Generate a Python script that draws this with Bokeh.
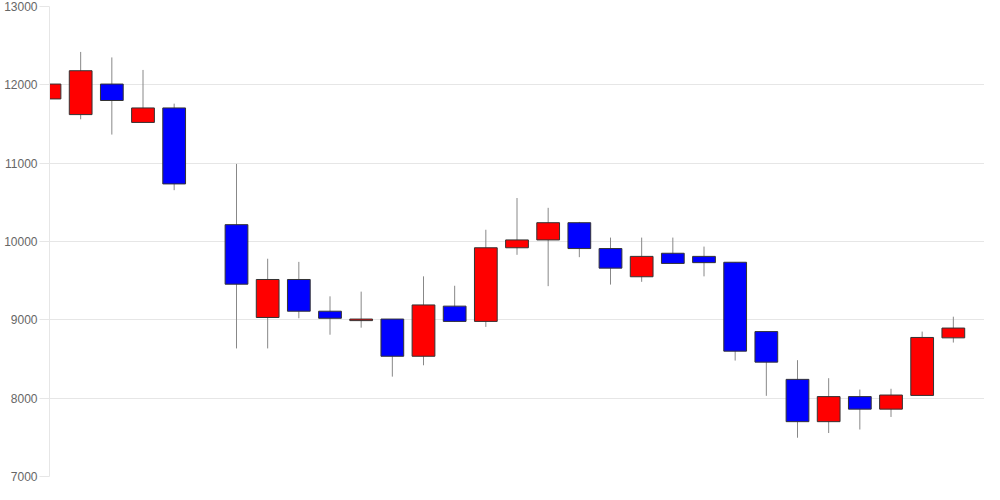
from bokeh.plotting import figure
from bokeh.models import ColumnDataSource, Range1d, FixedTicker
from bokeh.embed import file_html
from bokeh.resources import INLINE

# trading-day slots (slot 5 is an empty day)
day = [0, 1, 2, 3, 4, 6, 7, 8, 9, 10, 11, 12, 13, 14, 15, 16, 17, 18, 19, 20,
       21, 22, 23, 24, 25, 26, 27, 28, 29]
open_ = [11820, 11620, 12010, 11520, 11705, 10215, 9030, 9515, 9110, 8990,
         9010, 8535, 9175, 8980, 9920, 10020, 10240, 9910, 9550, 9850,
         9810, 9735, 8850, 8240, 7700, 8020, 7860, 8035, 8770]
high = [12190, 12420, 12350, 12190, 11760, 10990, 9780, 9740, 9300, 9360,
        9010, 9555, 9435, 10150, 10555, 10430, 10250, 10050, 10050, 10050,
        9935, 9735, 8850, 8485, 8255, 8110, 8120, 8850, 9040]
low = [11520, 11560, 11365, 11520, 10655, 8635, 8635, 9020, 8810, 8900,
       8275, 8420, 8975, 8910, 9830, 9430, 9800, 9450, 9485, 9720,
       9555, 8480, 8030, 7495, 7555, 7600, 7760, 8035, 8710]
close = [12010, 12180, 11800, 11705, 10735, 9455, 9515, 9110, 9020, 9010,
         8535, 9190, 8980, 9920, 10020, 10240, 9910, 9660, 9810, 9720,
         9730, 8600, 8460, 7700, 8020, 7860, 8040, 8775, 8895]
y_ticks = [7000, 8000, 9000, 10000, 11000, 12000, 13000]

up = [i for i in range(len(day)) if close[i] >= open_[i]]
dn = [i for i in range(len(day)) if close[i] < open_[i]]

def sub(idx):
    return ColumnDataSource(dict(
        x=[day[i] for i in idx],
        top=[max(open_[i], close[i]) for i in idx],
        bottom=[min(open_[i], close[i]) for i in idx],
    ))

wicks = ColumnDataSource(dict(x=day, high=high, low=low))

p = figure(width=984, height=484, output_backend="svg", toolbar_location=None,
           x_range=Range1d(0, 30), y_range=Range1d(7000, 13000),
           min_border_left=49, min_border_right=0, min_border_top=6,
           min_border_bottom=8)

p.segment(x0="x", y0="high", x1="x", y1="low", source=wicks,
          line_color="#888888", line_width=1)
p.vbar(x="x", top="top", bottom="bottom", width=0.73, source=sub(up),
       fill_color="#ff0000", line_color="#333333", line_width=1)
p.vbar(x="x", top="top", bottom="bottom", width=0.73, source=sub(dn),
       fill_color="#0000ff", line_color="#333333", line_width=1)

p.xaxis.visible = False
p.xgrid.visible = False
p.outline_line_color = None

p.yaxis.ticker = FixedTicker(ticks=y_ticks)
p.yaxis.minor_tick_line_color = None
p.yaxis.axis_line_color = "#e6e6e6"
p.yaxis.major_tick_line_color = "#e6e6e6"
p.yaxis.major_tick_out = 10
p.yaxis.major_tick_in = 0
p.yaxis.major_label_standoff = 2
p.yaxis.major_label_text_color = "#666666"
p.yaxis.major_label_text_font = "Liberation Sans"
p.yaxis.major_label_text_font_size = "12px"
p.ygrid.grid_line_color = "#e6e6e6"
p.ygrid.grid_line_width = 1

open("out.html", "w").write(file_html(p, INLINE))
